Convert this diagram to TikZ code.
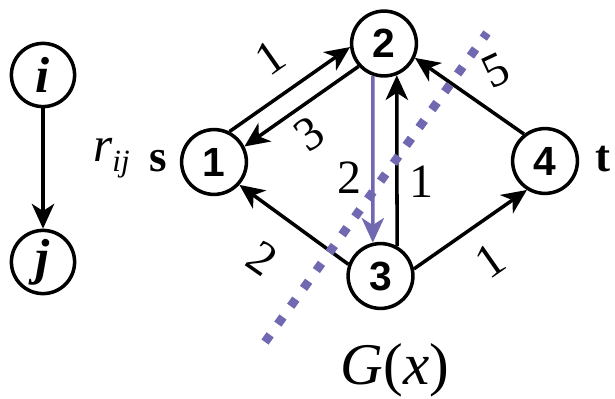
\documentclass[tikz,border=0pt]{standalone}
\usepackage{fontspec}
\setmainfont{Liberation Serif}
\newfontfamily\arialfont{Liberation Sans}
\usepackage{xcolor}
\usetikzlibrary{arrows.meta,positioning}
\definecolor{cutviolet}{RGB}{112,104,176}

\begin{document}
\begin{tikzpicture}[x=0.025cm, y=-0.025cm]
  % Styles for the residual graph
  \tikzstyle{vertex} = [circle, draw, line width=2.5pt, minimum size=1.62cm, inner sep=0pt, font=\arialfont\bfseries\fontsize{29}{29}\selectfont]
  \tikzstyle{legendvertex} = [circle, draw, line width=2.5pt, minimum size=1.58cm, inner sep=0pt, font=\bfseries\itshape\fontsize{36}{36}\selectfont]
  \tikzstyle{arc} = [-{Stealth[length=0.62cm, width=0.56cm, inset=0.18cm]}, line width=2.5pt]
  \tikzstyle{weight} = [inner sep=0pt, font=\fontsize{34}{34}\selectfont]
  \tikzstyle{terminal} = [inner sep=0pt, anchor=base, font=\bfseries\fontsize{32}{32}\selectfont]
  \useasboundingbox (0,0) rectangle (615,399);

  % Legend: arc i -> j with residual capacity
  \node[legendvertex] (ni) at (43,75) {i};
  \node[legendvertex] (nj) at (43,262) {j};
  \draw[arc] (ni) -- (nj);
  \node[inner sep=0pt, anchor=base west, font=\itshape\fontsize{35}{35}\selectfont] (rij) at (93,161) {r\raisebox{-0.27cm}{\fontsize{22}{22}\selectfont ij}};

  % Vertices
  \node[vertex] (n1) at (214,162) {1};
  \node[vertex] (n2) at (384,43.5) {2};
  \node[vertex] (n3) at (380.5,276) {3};
  \node[vertex] (n4) at (545,161) {4};
  \node[terminal] (src) at (158,172) {s};
  \node[terminal] (snk) at (603,172) {t};

  % Arcs
  \draw[arc] (n1.63) -- (n2.186);
  \draw[arc] (n2.222) -- (n1.27);
  \draw[arc, cutviolet] (n2.251) -- (n3.103);
  \draw[arc] (n3.61) -- (n2.292.5);
  \draw[arc] (n4.128) -- (n2.335);
  \draw[arc] (n3.160) -- (n1.318);
  \draw[arc] (n3.12) -- (n4.238);

  % Residual capacities
  \node[weight, rotate=35] (w12) at (270,58) {1};
  \node[weight, rotate=35] (w21) at (309,134) {3};
  \node[weight] (w23) at (349,178) {2};
  \node[weight] (w32) at (421,182) {1};
  \node[weight, rotate=-35] (w31) at (262,258) {2};
  \node[weight, rotate=35] (w34) at (490,261) {1};
  \node[weight, rotate=25] (w42) at (496,70) {5};

  % Cut
  \coordinate (cutA) at (265,342);
  \coordinate (cutB) at (487,33);
  \draw[cutviolet, line width=0.22cm, dash pattern=on 0.22cm off 0.33cm] (cutA) -- (cutB);

  \node[inner sep=0pt, anchor=base, font=\fontsize{42}{42}\selectfont] (gx) at (395,384) {\textit{G}(\textit{x})};
\end{tikzpicture}
\end{document}
